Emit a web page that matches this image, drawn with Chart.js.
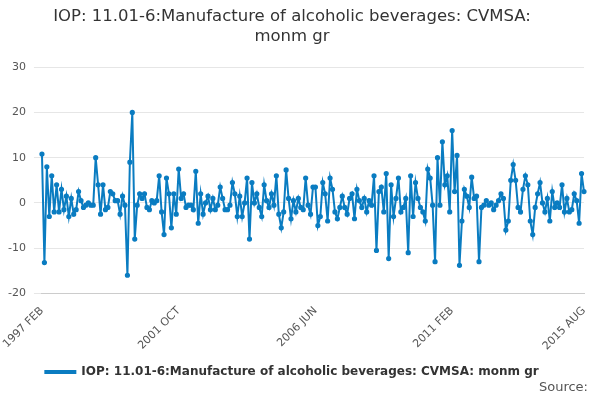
<!DOCTYPE html>
<html>
<head>
<meta charset="utf-8">
<script src="https://cdn.jsdelivr.net/npm/chart.js@4"></script>
<style>
  body { margin: 0; background: #fff; }
  #wrap { position: relative; width: 600px; height: 400px; }
  #source { position: absolute; right: 12px; bottom: 6px; font: 13px "DejaVu Sans", sans-serif; color: #555; }
</style>
</head>
<body>
<div id="wrap">
  <canvas id="chart" width="600" height="400"></canvas>
  <div id="source">Source:</div>
</div>
<script>
const seriesName = 'IOP: 11.01-6:Manufacture of alcoholic beverages: CVMSA: monm gr';
const startYear = 1997;
const startMonth = 1; // Feb
const monthNames = ['JAN', 'FEB', 'MAR', 'APR', 'MAY', 'JUN', 'JUL', 'AUG', 'SEP', 'OCT', 'NOV', 'DEC'];
const values = [
    10.8, -13.2, 8, -3, 6, -2, 4, -2, 3, -1.5, 1.5, -3, 1, -2.5, -1.5, 2.5, 0.5, -1, -0.5, 0, -0.5, -0.5,
    10, 4, -2.5, 4, -1.5, -1, 2.5, 2, 0.5, 0.5, -2.5, 1.5, -0.5,
    -16, 9, 20, -8, -0.5, 2, 1, 2, -1, -1.5, 0.5, 0, 0.5,
    6, -2, -7, 5.5, 2, -5.5, 2, -2.5, 7.5, 1, 2, -1, -0.5, -0.5, -1.5,
    7, -4.5, 2, -2.5, 0, 1.5, -1.5, 1, -1.5, -0.5, 3.5, 1, -1.5, -1.5, -0.5, 4.5, 2, -3, 1.5, -3, 0,
    5.5, -8, 4.5, 0, 2, -1, -3, 4, 0.5, -1, 2, -0.5, 6, -2.5, -5.5, -2, 7.3,
    1, -3.5, 0.5, -2, 1, -1, -1.5, 5.5, -0.5, -2.5, 3.5, 3.5, -5, -3, 4.5, 2, -4, 5.5,
    3, -2, -3.5, -1, 1.5, -1, -2.5, 1, 2, -3.5, 3, 0.5, -1, 1, -2, 0.5, -0.5,
    6, -10.5, 2.5, 3.5, -2, 6.5, -12.3, 4, -3, 1, 5.5, -2, -1, 1,
    -11, 6, -3, 4.5, 1, -1, -2, -4, 7.5, 5.5, -0.5, -13, 10, -0.5, 13.5, 4, 6, -2, 16, 2.5, 10.5,
    -13.8, -4, 3, 1.5, -1, 5.7, 1, 1.5, -13, -1, -0.5, 0.5, -0.5,
    0, -1.5, -0.5, 0.5, 2, 1, -6, -4, 5, 8.5, 5, -1, -2, 3, 6, 4, -4, -7, -1, 2, 4.5,
    0, -2, 1, -4, 2.5, -1, 0, -1, 4, -2, 1, -2, -1.5, 2, 0.5, -4.5, 6.5, 2.5
];
const labels = values.map((v, i) => {
    const m = startMonth + i;
    return (startYear + Math.floor(m / 12)) + ' ' + monthNames[m % 12];
});
const tickEvery = 56;

new Chart(document.getElementById('chart'), {
    type: 'line',
    data: {
        labels: labels,
        datasets: [{
            label: seriesName,
            data: values,
            borderColor: '#0a7cc1',
            backgroundColor: '#0a7cc1',
            borderWidth: 2,
            pointRadius: 1.6,
            pointHoverRadius: 1.6,
            tension: 0
        }]
    },
    options: {
        responsive: false,
        animation: false,
        layout: { padding: { left: 0, right: 16, bottom: 12 } },
        plugins: {
            title: {
                display: true,
                text: ['IOP: 11.01-6:Manufacture of alcoholic beverages: CVMSA:', 'monm gr'],
                color: '#333',
                font: { family: 'DejaVu Sans', size: 16.5, weight: 'normal', lineHeight: 1.25 },
                padding: { top: 6, bottom: 20 }
            },
            legend: {
                position: 'bottom',
                labels: {
                    color: '#333',
                    font: { family: 'DejaVu Sans', size: 12, weight: 'bold' },
                    boxWidth: 30,
                    boxHeight: 2
                }
            }
        },
        scales: {
            x: {
                grid: { display: false },
                border: { color: '#ccc' },
                ticks: {
                    autoSkip: false,
                    maxRotation: 45,
                    minRotation: 45,
                    color: '#555',
                    font: { family: 'DejaVu Sans', size: 11 },
                    callback: function (val, i) {
                        if (i % tickEvery === 0 || i === labels.length - 1) {
                            return labels[i];
                        }
                        return null;
                    }
                }
            },
            y: {
                min: -20,
                max: 30,
                ticks: { stepSize: 10, color: '#555', font: { family: 'DejaVu Sans', size: 11 }, padding: 8 },
                grid: { color: '#e6e6e6' },
                border: { display: false }
            }
        }
    }
});
</script>
</body>
</html>
